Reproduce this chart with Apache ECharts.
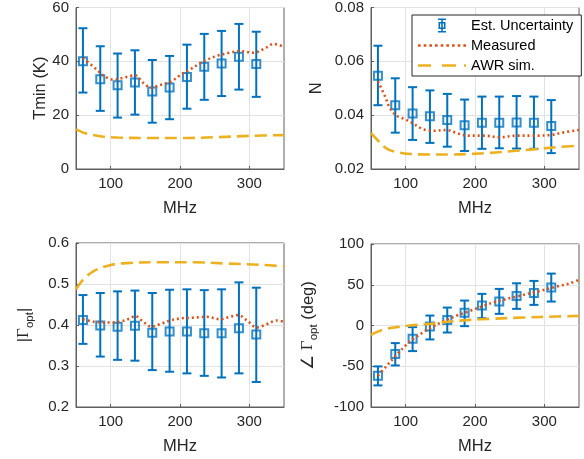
<!DOCTYPE html>
<html>
<head>
<meta charset="utf-8">
<script src="https://cdn.jsdelivr.net/npm/echarts@6/dist/echarts.min.js"></script>
<style>
html,body{margin:0;padding:0;background:#fff;}
#c{width:584px;height:459px;}
</style>
</head>
<body>
<div id="c"></div>
<script>
// ---------- data ----------
const freq = [60, 85, 110, 135, 160, 185, 210, 235, 260, 285, 310];
const xTicks = [100, 200, 300];

// Tmin (K)
const tminVal = [40, 33.3, 31.1, 32.1, 28.8, 30.3, 34.2, 38, 39.2, 41.7, 39];
const tminHi  = [52.3, 45.6, 42.9, 44.1, 40.5, 42, 46.2, 50.2, 51.3, 53.9, 51];
const tminLo  = [28.4, 21.6, 19.1, 20.2, 17.2, 18.5, 22.4, 25.7, 27.1, 29.5, 26.8];
const tminMeasFreq = [60, 80, 89, 104, 123, 135, 147, 159, 171, 186, 200, 214, 234, 253, 272, 287, 306, 325, 335, 350];
const tminMeas     = [41.2, 36.9, 34.8, 33.2, 34.2, 34.8, 32, 30.2, 31.2, 32.3, 34.8, 36.9, 40, 42, 43.2, 43.8, 43.2, 45.2, 46.5, 45.3];
const tminSimFreq = [50, 60, 75, 90, 110, 150, 200, 250, 300, 350];
const tminSim     = [14.7, 13.6, 12.6, 12.0, 11.7, 11.5, 11.5, 11.8, 12.3, 12.6];

// N
const nVal = [0.0546, 0.0437, 0.0406, 0.0396, 0.0382, 0.0363, 0.0372, 0.0372, 0.0373, 0.0372, 0.036];
const nHi  = [0.0658, 0.0537, 0.0504, 0.0492, 0.0479, 0.0458, 0.0469, 0.0469, 0.0471, 0.0469, 0.0456];
const nLo  = [0.0437, 0.0335, 0.0308, 0.0297, 0.0283, 0.0267, 0.0275, 0.0277, 0.0276, 0.0275, 0.0259];
const nMeasFreq = [60, 70, 77, 87, 99, 111, 125, 140, 159, 174, 188, 212, 236, 260, 284, 308, 328, 350];
const nMeas     = [0.0526, 0.0471, 0.0428, 0.0398, 0.0385, 0.0369, 0.0348, 0.0342, 0.0345, 0.0333, 0.0324, 0.0324, 0.0318, 0.0324, 0.0324, 0.0326, 0.0336, 0.0345];
const nSimFreq = [50, 60, 72, 87, 106, 135, 164, 193, 222, 251, 280, 318, 350];
const nSim     = [0.0333, 0.0306, 0.0277, 0.0263, 0.0256, 0.0254, 0.0254, 0.0256, 0.026, 0.0266, 0.0272, 0.0281, 0.0287];

// |Gamma_opt|
const gmVal = [0.412, 0.399, 0.396, 0.398, 0.381, 0.384, 0.384, 0.380, 0.380, 0.392, 0.377];
const gmHi  = [0.473, 0.478, 0.482, 0.484, 0.478, 0.486, 0.487, 0.485, 0.487, 0.504, 0.491];
const gmLo  = [0.354, 0.323, 0.315, 0.313, 0.290, 0.286, 0.282, 0.276, 0.272, 0.282, 0.261];
const gmMeasFreq = [60, 75, 99, 113, 128, 135, 147, 159, 171, 186, 200, 219, 238, 258, 272, 284, 296, 311, 325, 340, 350];
const gmMeas     = [0.414, 0.408, 0.406, 0.408, 0.416, 0.422, 0.408, 0.396, 0.402, 0.411, 0.416, 0.418, 0.420, 0.414, 0.420, 0.424, 0.412, 0.394, 0.402, 0.411, 0.408];
const gmSimFreq = [50, 60, 75, 99, 123, 171, 219, 267, 315, 350];
const gmSim     = [0.487, 0.510, 0.531, 0.546, 0.551, 0.553, 0.553, 0.550, 0.547, 0.543];

// angle Gamma_opt (deg)
const gaVal = [-61.6, -35.1, -16.3, -1.2, 6.9, 15.5, 24.5, 29.4, 36.3, 40, 46.5];
const gaHi  = [-50.2, -21.6, -2, 12.2, 22, 30.6, 38.8, 44.9, 51.8, 54.7, 63.7];
const gaLo  = [-73.5, -49, -31.4, -17.1, -8.6, -0.8, 9, 14.3, 20.4, 25.3, 29.4];
const gaMeasFreq = [60, 72, 87, 101, 116, 135, 154, 174, 193, 212, 231, 260, 289, 318, 337, 350];
const gaMeas     = [-61.6, -50.2, -35.9, -23.7, -13.5, -3.3, 4.9, 12.2, 18, 24.1, 29.4, 35.5, 41.6, 47.8, 51.8, 55.9];
const gaSimFreq = [50, 67, 87, 106, 135, 164, 193, 222, 270, 318, 350];
const gaSim     = [-11.4, -5.3, -2, 0, 2, 4.9, 6.9, 8.2, 9.8, 11, 11.8];

// ---------- styling ----------
const BLUE = '#0072BD', RED = '#D95319', YEL = '#EDB120';
const AX = '#262626', AXLINE = '#5e5e5e', GRIDC = '#e2e2e2';
const FONT = 'Liberation Sans, Arial, Helvetica, sans-serif';

const grids = [
  {left: 76, top: 6, width: 208, height: 163},
  {left: 371, top: 6, width: 208, height: 163},
  {left: 76, top: 243, width: 208, height: 164},
  {left: 371, top: 244, width: 208, height: 163}
];

const richName = {
  t: {fontSize: 16.5, fontFamily: FONT, color: AX, lineHeight: 20},
  g: {fontSize: 17, fontFamily: 'Liberation Serif, Times New Roman, serif', color: AX, lineHeight: 20},
  s: {fontSize: 11.5, fontFamily: FONT, color: AX, lineHeight: 12, padding: [12, 0, 0, 0]}
};

const yDefs = [
  {min: 0, max: 60, interval: 20, name: 'Tmin (K)', gap: 27, fmt: v => String(v)},
  {min: 0.02, max: 0.08, interval: 0.02, name: 'N', gap: 46, fmt: v => v.toFixed(2)},
  {min: 0.2, max: 0.6, interval: 0.1, name: '{t||}{g|Γ}{s|opt}{t||}', gap: 42, fmt: v => v.toFixed(1)},
  {min: -100, max: 100, interval: 50, name: '{t|∠ }{g|Γ}{s|opt}{t| (deg)}', gap: 53, fmt: v => String(Math.round(v))}
];

const xAxis = grids.map((g, i) => ({
  type: 'value', gridIndex: i, min: 50, max: 350,
  name: 'MHz', nameLocation: 'middle', nameGap: 31, nameMoveOverlap: false,
  nameTextStyle: {fontSize: 16.5, fontFamily: FONT, color: AX},
  axisLine: {show: true, onZero: false, lineStyle: {color: AXLINE, width: 1}},
  axisTick: {show: true, inside: true, length: 3, customValues: xTicks, lineStyle: {color: AXLINE}},
  axisLabel: {customValues: xTicks, fontSize: 15, fontFamily: FONT, color: AX, margin: 7},
  splitLine: {show: true, lineStyle: {color: GRIDC, width: 1}}
}));

const yAxis = yDefs.map((d, i) => ({
  type: 'value', gridIndex: i, min: d.min, max: d.max, interval: d.interval,
  name: d.name, nameLocation: 'middle', nameGap: d.gap, nameRotate: 90, nameMoveOverlap: false,
  nameTextStyle: {fontSize: 16.5, fontFamily: FONT, color: AX, rich: richName},
  axisLine: {show: true, lineStyle: {color: AXLINE, width: 1}},
  axisTick: {show: true, inside: true, length: 3, lineStyle: {color: AXLINE}},
  axisLabel: {fontSize: 15, fontFamily: FONT, color: AX, margin: 7, formatter: d.fmt},
  splitLine: {show: true, lineStyle: {color: GRIDC, width: 1}}
}));

function errData(val, lo, hi) { return freq.map((f, k) => [f, lo[k], hi[k]]); }
function pts(xs, ys) { return xs.map((x, k) => [x, ys[k]]); }

function errRender(params, api) {
  const x = api.value(0);
  const lo = api.coord([x, api.value(1)]);
  const hi = api.coord([x, api.value(2)]);
  const w = 4.5;
  const st = {stroke: BLUE, lineWidth: 2, fill: null};
  return {type: 'group', children: [
    {type: 'line', shape: {x1: lo[0], y1: lo[1], x2: hi[0], y2: hi[1]}, style: st},
    {type: 'line', shape: {x1: lo[0] - w, y1: lo[1], x2: lo[0] + w, y2: lo[1]}, style: st},
    {type: 'line', shape: {x1: hi[0] - w, y1: hi[1], x2: hi[0] + w, y2: hi[1]}, style: st}
  ]};
}

const panels = [
  [tminVal, tminLo, tminHi, tminMeasFreq, tminMeas, tminSimFreq, tminSim],
  [nVal, nLo, nHi, nMeasFreq, nMeas, nSimFreq, nSim],
  [gmVal, gmLo, gmHi, gmMeasFreq, gmMeas, gmSimFreq, gmSim],
  [gaVal, gaLo, gaHi, gaMeasFreq, gaMeas, gaSimFreq, gaSim]
];

const series = [];
panels.forEach((p, i) => {
  series.push({
    type: 'custom', name: 'Est. Uncertainty', xAxisIndex: i, yAxisIndex: i,
    renderItem: errRender, data: errData(p[0], p[1], p[2]),
    encode: {x: 0, y: [1, 2]}, itemStyle: {color: BLUE}, z: 2, clip: false
  });
  series.push({
    type: 'scatter', name: 'Est. Uncertainty', xAxisIndex: i, yAxisIndex: i,
    symbol: 'rect', symbolSize: 8,
    itemStyle: {color: 'rgba(255,255,255,0)', borderColor: BLUE, borderWidth: 2},
    data: pts(freq, p[0]), z: 3
  });
  series.push({
    type: 'line', name: 'Measured', xAxisIndex: i, yAxisIndex: i,
    symbol: 'none', smooth: 0.35, data: pts(p[3], p[4]),
    lineStyle: {color: RED, width: 2.6, type: [2, 3]}, itemStyle: {color: RED}, z: 4
  });
  series.push({
    type: 'line', name: 'AWR sim.', xAxisIndex: i, yAxisIndex: i,
    symbol: 'none', smooth: 0.35, data: pts(p[5], p[6]),
    lineStyle: {color: YEL, width: 2.6, type: [12, 6]}, itemStyle: {color: YEL}, z: 5
  });
});

// legend sample icons (drawn as filled shapes)
const ebIcon = 'path://M0 0H8V1.6H0Z M0 12.4H8V14H0Z M3.2 0H4.8V14H3.2Z M0.5 3.5H7.5V5.1H0.5Z M0.5 8.9H7.5V10.5H0.5Z M0.5 3.5H2.1V10.5H0.5Z M5.9 3.5H7.5V10.5H5.9Z';
let dotIcon = 'path://';
for (let k = 0; k < 9; k++) { const x0 = k * 5.6; dotIcon += 'M' + x0 + ' 0H' + (x0 + 2.6) + 'V2.6H' + x0 + 'Z '; }
const dashIcon = 'path://M0 0H13V2.6H0Z M24 0H38V2.6H24Z M46 0H48V2.6H46Z';

const option = {
  animation: false,
  backgroundColor: '#fff',
  grid: grids.map(g => Object.assign({show: true, borderColor: AXLINE, borderWidth: 1, backgroundColor: '#fff'}, g)),
  xAxis, yAxis, series,
  legend: {
    orient: 'vertical', left: 412, top: 15,
    backgroundColor: '#fff', borderColor: AX, borderWidth: 1,
    padding: [3, 8, 3, 6], itemWidth: 48, itemHeight: 14, itemGap: 5,
    textStyle: {fontSize: 14.5, fontFamily: FONT, color: '#000'},
    selectedMode: false,
    data: [
      {name: 'Est. Uncertainty', icon: ebIcon, itemStyle: {color: BLUE, borderWidth: 0}},
      {name: 'Measured', icon: dotIcon, itemStyle: {color: RED, borderWidth: 0}},
      {name: 'AWR sim.', icon: dashIcon, itemStyle: {color: YEL, borderWidth: 0}}
    ]
  }
};

echarts.init(document.getElementById('c'), null, {renderer: 'canvas'}).setOption(option);
</script>
</body>
</html>
